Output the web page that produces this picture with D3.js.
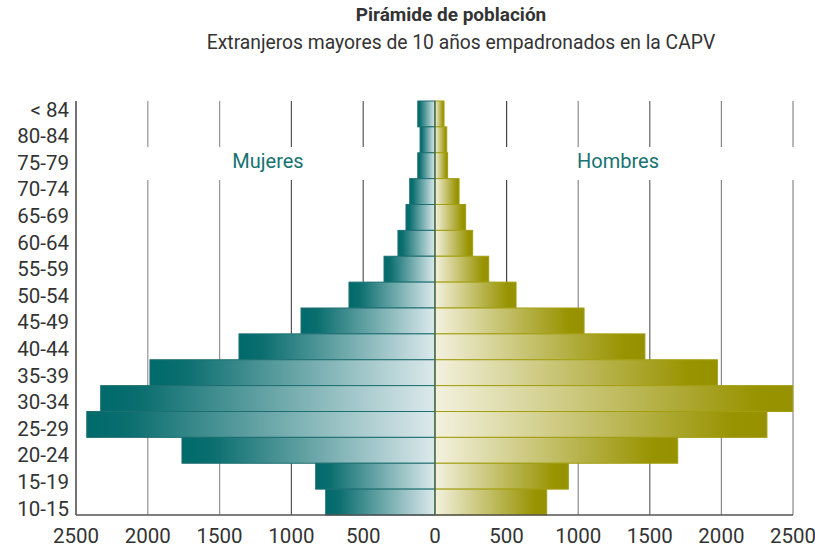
<!DOCTYPE html>
<html>
<head>
<meta charset="utf-8">
<script src="https://cdn.jsdelivr.net/npm/d3@7/dist/d3.min.js"></script>
<style>
  body { margin: 0; background: #fff; }
  text { font-family: Roboto, "Open Sans", sans-serif; fill: #333; }
</style>
</head>
<body>
<div id="chart"></div>
<script>
'use strict';

// age groups, top to bottom
var ages = ['< 84', '80-84', '75-79', '70-74', '65-69', '60-64', '55-59',
            '50-54', '45-49', '40-44', '35-39', '30-34', '25-29', '20-24', '15-19', '10-15'];
var mujeres = [120, 104, 120, 176, 202, 258, 355, 599, 933, 1365, 1985, 2328, 2425, 1762, 831, 761];
var hombres = [63, 82, 88, 168, 214, 263, 375, 566, 1041, 1466, 1972, 2498, 2318, 1695, 931, 780];
var ticks = [0, 500, 1000, 1500, 2000, 2500];

var W = 815, H = 550;
var cx = 435, plotL = 76, plotR = 793, plotT = 101, plotB = 515;

var svg = d3.select('#chart').append('svg')
    .attr('width', W)
    .attr('height', H);

var defs = svg.append('defs');
var gf = defs.append('linearGradient').attr('id', 'gradF')
    .attr('x1', 0).attr('x2', 1).attr('y1', 0).attr('y2', 0);
gf.append('stop').attr('offset', '0%').attr('stop-color', '#006a6a');
gf.append('stop').attr('offset', '12%').attr('stop-color', '#0b6e6f');
gf.append('stop').attr('offset', '100%').attr('stop-color', '#dce9ec');
var gm = defs.append('linearGradient').attr('id', 'gradM')
    .attr('x1', 0).attr('x2', 1).attr('y1', 0).attr('y2', 0);
gm.append('stop').attr('offset', '0%').attr('stop-color', '#f3f1de');
gm.append('stop').attr('offset', '90%').attr('stop-color', '#989300');
gm.append('stop').attr('offset', '100%').attr('stop-color', '#969100');

var xF = d3.scaleLinear().domain([0, 2500]).range([cx, plotL]);
var xM = d3.scaleLinear().domain([0, 2500]).range([cx, plotR]);
var y = d3.scaleBand().domain(ages).range([plotT, plotB]).padding(0);
// the age labels are spread a little wider than the bars
var yLab = d3.scalePoint().domain(ages).range([109, 508]);

var gridColF = ['#444', '#444', '#888', '#888'];   // 500..2000
var gridColM = ['#444', '#888', '#666', '#888', '#888'];  // 500..2500

// series labels with a white patch over the gridlines
function seriesLabel(txt, x) {
    svg.append('text')
        .attr('x', x).attr('y', 168)
        .attr('text-anchor', 'middle')
        .style('font-size', '20px')
        .style('fill', '#177272')
        .text(txt);
}

// bars
svg.append('g').selectAll('rect').data(mujeres).enter()
    .append('rect')
        .attr('x', function(d) { return xF(d) })
        .attr('y', function(d, i) { return y(ages[i]) })
        .attr('width', function(d) { return cx - xF(d) })
        .attr('height', y.bandwidth())
        .attr('fill', 'url(#gradF)')
        .attr('stroke', '#1e6f72')
        .attr('stroke-width', 1);

svg.append('g').selectAll('rect').data(hombres).enter()
    .append('rect')
        .attr('x', cx)
        .attr('y', function(d, i) { return y(ages[i]) })
        .attr('width', function(d) { return xM(d) - cx })
        .attr('height', y.bandwidth())
        .attr('fill', 'url(#gradM)')
        .attr('stroke', '#a39e10')
        .attr('stroke-width', 1);

// gridlines (broken where the series labels sit)
var grid = svg.append('g');
[[plotT, 147], [180, plotB]].forEach(function(seg) {
    grid.selectAll(null).data(ticks.slice(1, 5)).enter()
        .append('line')
            .attr('x1', function(d) { return xF(d) }).attr('x2', function(d) { return xF(d) })
            .attr('y1', seg[0]).attr('y2', seg[1])
            .attr('stroke', function(d, i) { return gridColF[i] })
            .attr('stroke-opacity', function(d) { return 0.9 })
            .attr('stroke-width', 1.2);
    grid.selectAll(null).data(ticks.slice(1)).enter()
        .append('line')
            .attr('x1', function(d) { return xM(d) }).attr('x2', function(d) { return xM(d) })
            .attr('y1', seg[0]).attr('y2', seg[1])
            .attr('stroke', function(d, i) { return gridColM[i] })
            .attr('stroke-width', 1.2);
});
// bars are drawn over the gridlines again where they cross
grid.lower();

seriesLabel('Mujeres', 268);
seriesLabel('Hombres', 618);

// center line
svg.append('line').attr('x1', cx).attr('x2', cx).attr('y1', plotT).attr('y2', plotB)
    .attr('stroke', '#2d5e56').attr('stroke-width', 1.2);

// axes frame
svg.append('line').attr('x1', plotL).attr('x2', plotL).attr('y1', plotT).attr('y2', plotB)
    .attr('stroke', '#444').attr('stroke-width', 1.5);
svg.append('line').attr('x1', plotL).attr('x2', plotR).attr('y1', plotB).attr('y2', plotB)
    .attr('stroke', '#555').attr('stroke-width', 1.5);

// age labels
svg.append('g').selectAll('text').data(ages).enter()
    .append('text')
        .attr('x', 69)
        .attr('y', function(d) { return yLab(d) + 7.5 })
        .attr('text-anchor', 'end')
        .style('font-size', '20.5px')
        .text(function(d) { return d });

// bottom tick labels
var tl = svg.append('g');
tl.selectAll('text.f').data(ticks.slice(1)).enter()
    .append('text')
        .attr('x', function(d) { return xF(d) })
        .attr('y', 543)
        .attr('text-anchor', 'middle')
        .style('font-size', '20.5px')
        .text(function(d) { return d });
tl.selectAll('text.m').data(ticks).enter()
    .append('text')
        .attr('x', function(d) { return xM(d) })
        .attr('y', 543)
        .attr('text-anchor', 'middle')
        .style('font-size', '20.5px')
        .text(function(d) { return d });

// titles
svg.append('text').attr('x', 451).attr('y', 21).attr('text-anchor', 'middle')
    .style('font-size', '19px').style('font-weight', 'bold')
    .text('Pirámide de población');
svg.append('text').attr('x', 461).attr('y', 49).attr('text-anchor', 'middle')
    .style('font-size', '19.3px')
    .text('Extranjeros mayores de 10 años empadronados en la CAPV');
</script>
</body>
</html>
